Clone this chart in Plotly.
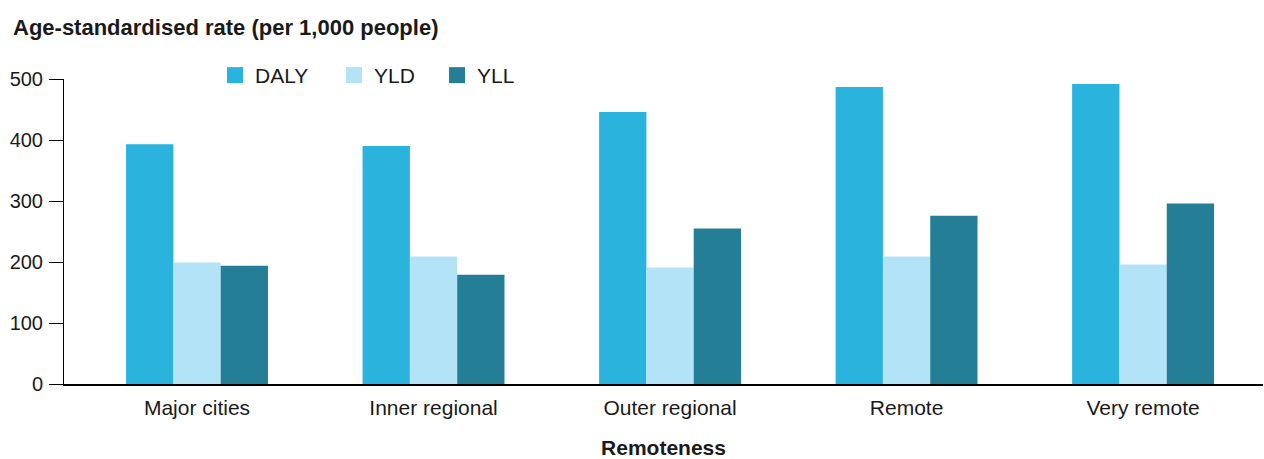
import plotly.graph_objects as go

categories = ["Major cities", "Inner regional", "Outer regional", "Remote", "Very remote"]
daly = [393, 390, 446, 487, 492]
yld = [199, 209, 191, 209, 196]
yll = [194, 179, 255, 276, 296]
y_ticks = [0, 100, 200, 300, 400, 500]
series_names = ["DALY", "YLD", "YLL"]

colors = {"DALY": "#29B3DD", "YLD": "#B3E3F6", "YLL": "#247E96"}

W, H = 1264, 459
L, T, R, B = 64, 79, 1, 75
PW, PH = W - L - R, H - T - B

def px_x(x):
    return (x - L) / PW

def px_y(y):
    return 1 + (T - y) / PH

fig = go.Figure()
for name, vals in zip(series_names, [daly, yld, yll]):
    fig.add_trace(go.Bar(x=categories, y=vals, name=name, showlegend=False,
                         marker=dict(color=colors[name], line=dict(width=0))))

# legend swatches, one legend per entry for spacing control
legend_keys = ["legend", "legend2", "legend3"]
legend_px = [228, 347, 450]
for name, lk in zip(series_names, legend_keys):
    fig.add_trace(go.Scatter(x=[None], y=[None], mode="markers", name=name, legend=lk,
                             marker=dict(symbol="square", size=16, color=colors[name])))

font = "Liberation Sans, Arial, sans-serif"
legend_common = dict(orientation="h", xanchor="left", yanchor="middle",
                     font=dict(size=21), itemwidth=30, bgcolor="rgba(0,0,0,0)",
                     borderwidth=0)
layout_legends = {}
for lk, lx in zip(legend_keys, legend_px):
    layout_legends[lk] = dict(x=px_x(lx - 13), y=px_y(75.5), **legend_common)

fig.update_layout(
    width=W, height=H,
    margin=dict(l=L, r=R, t=T, b=B, autoexpand=False),
    paper_bgcolor="white", plot_bgcolor="white",
    barmode="group", bargap=0.4, bargroupgap=0,
    font=dict(family=font, size=20, color="#1a1a1a"),
    showlegend=True,
    xaxis=dict(range=[-0.5624, 4.507], showline=True, linecolor="black", linewidth=2,
               ticks="", showgrid=False, tickfont=dict(size=21), ticklabelstandoff=4,
               automargin=False,
               title=dict(text="<b>Remoteness</b>", font=dict(size=21), standoff=32)),
    yaxis=dict(range=[0, 500], tickvals=y_ticks, showline=True, linecolor="black",
               linewidth=1, ticks="outside", ticklen=14, tickcolor="black",
               ticklabelstandoff=2, automargin=False,
               showgrid=False, zeroline=False, tickfont=dict(size=20)),
    **layout_legends,
)
fig.add_annotation(text="<b>Age-standardised rate (per 1,000 people)</b>",
                   xref="paper", yref="paper", x=px_x(11), y=px_y(27.5),
                   xanchor="left", yanchor="middle", showarrow=False,
                   font=dict(size=22, family=font, color="#1a1a1a"))

fig.write_html("out.html", config={"displayModeBar": False},
               post_script="document.body.style.margin='0';document.body.style.overflow='hidden';")
